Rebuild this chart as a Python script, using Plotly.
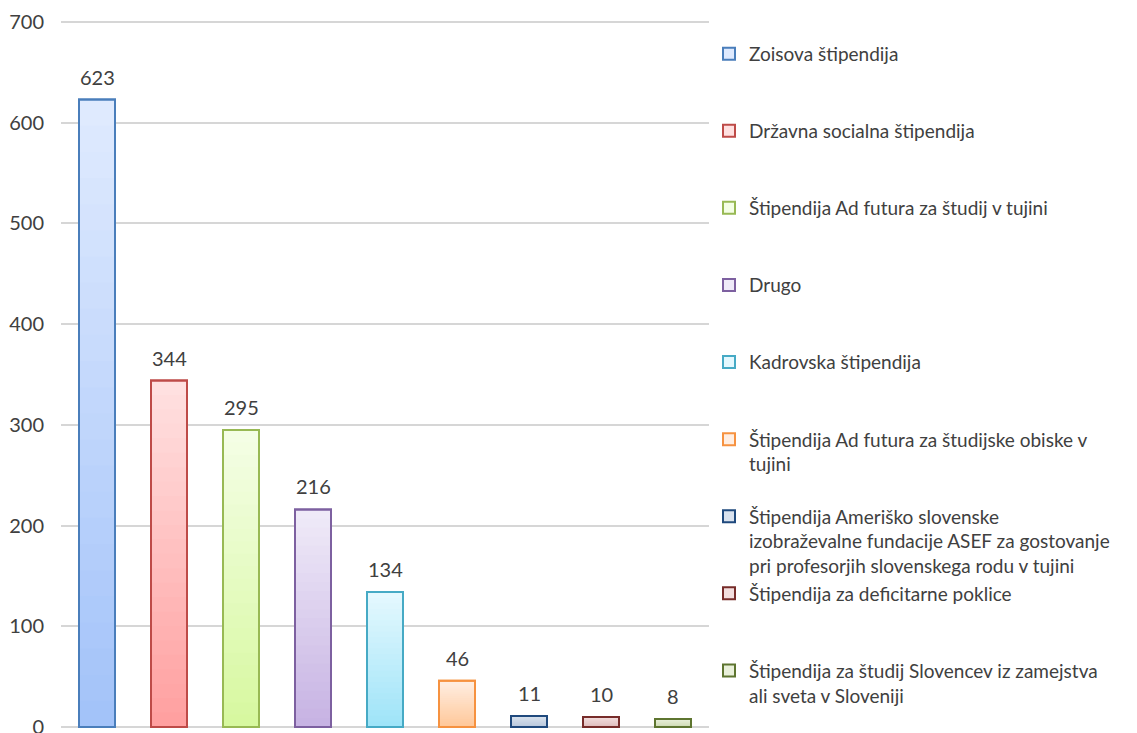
import plotly.graph_objects as go

categories = [
    "Zoisova štipendija",
    "Državna socialna štipendija",
    "Štipendija Ad futura za študij v tujini",
    "Drugo",
    "Kadrovska štipendija",
    "Štipendija Ad futura za študijske obiske v tujini",
    "Štipendija Ameriško slovenske izobraževalne fundacije ASEF za gostovanje pri profesorjih slovenskega rodu v tujini",
    "Štipendija za deficitarne poklice",
    "Štipendija za študij Slovencev iz zamejstva ali sveta v Sloveniji",
]
legend_labels = [
    "Zoisova štipendija",
    "Državna socialna štipendija",
    "Štipendija Ad futura za študij v tujini",
    "Drugo",
    "Kadrovska štipendija",
    "Štipendija Ad futura za študijske obiske v<br>tujini",
    "Štipendija Ameriško slovenske<br>izobraževalne fundacije ASEF za gostovanje<br>pri profesorjih slovenskega rodu v tujini",
    "Štipendija za deficitarne poklice",
    "Štipendija za študij Slovencev iz zamejstva<br>ali sveta v Sloveniji",
]
values = [623, 344, 295, 216, 134, 46, 11, 10, 8]
y_ticks = [0, 100, 200, 300, 400, 500, 600, 700]

line_colors = ["#4a7ebb", "#be4b48", "#98b954", "#7d60a0", "#46aac5",
               "#f69240", "#1f497d", "#772c2a", "#5e7530"]
top_colors = ["#dfeafe", "#ffe0e0", "#f4fee5", "#efeaf8", "#e4f8fe",
              "#ffeee2", "#d9e2ee", "#f3dede", "#e9f0da"]
bottom_colors = ["#a3c3f9", "#ffa0a0", "#d7f8a0", "#c7b3e3", "#9fe4f8",
                 "#ffc89a", "#b9c8dc", "#dfbcbc", "#cfdcb5"]

FONT = "Lato"
TEXT_COLOR = "#404040"
N_LAYERS = 24
BAR_W = 0.5


def mix(c1, c2, t):
    a = [int(c1[i:i + 2], 16) for i in (1, 3, 5)]
    b = [int(c2[i:i + 2], 16) for i in (1, 3, 5)]
    return "rgb(%d,%d,%d)" % tuple(round(a[j] + (b[j] - a[j]) * t) for j in range(3))


def pad_label(lbl, lines=3):
    n = lbl.count("<br>") + 1
    return lbl + "<br>\u00a0" * max(0, lines - n)


fig = go.Figure()
for i, cat in enumerate(categories):
    v = values[i]
    is_last = i == len(categories) - 1
    label = legend_labels[i] if is_last else pad_label(legend_labels[i])
    # full bar (legend entry) with the top colour of the gradient
    fig.add_bar(x=[cat], y=[v], name=label, legendgroup=cat,
                width=BAR_W, hoverinfo="skip",
                marker=dict(color=top_colors[i], line=dict(color=line_colors[i], width=2)))
    # gradient layers (shorter overlays getting darker towards the bottom)
    for k in range(1, N_LAYERS):
        frac = (N_LAYERS - k) / N_LAYERS
        fig.add_bar(x=[cat], y=[v * frac], showlegend=False, width=BAR_W, hoverinfo="skip",
                    marker=dict(color=mix(top_colors[i], bottom_colors[i], k / (N_LAYERS - 1)),
                                line=dict(width=0)))
    # outline on top
    fig.add_bar(x=[cat], y=[v], showlegend=False, width=BAR_W, hoverinfo="skip",
                marker=dict(color="rgba(0,0,0,0)", line=dict(color=line_colors[i], width=2)))

for cat, v in zip(categories, values):
    fig.add_annotation(x=cat, y=v, text=str(v), showarrow=False, yanchor="bottom", yshift=9,
                       font=dict(family=FONT, size=20, color=TEXT_COLOR))

fig.update_layout(
    width=1137, height=733,
    barmode="overlay",
    paper_bgcolor="white", plot_bgcolor="white",
    margin=dict(l=61, r=428, t=21, b=5, pad=0, autoexpand=False),
    font=dict(family=FONT, size=19, color=TEXT_COLOR),
    showlegend=True,
    legend=dict(x=1.0, xanchor="left", y=0.9805, yanchor="top",
                font=dict(family=FONT, size=19, color=TEXT_COLOR),
                tracegroupgap=0, valign="top", itemwidth=30,
                bgcolor="rgba(0,0,0,0)", traceorder="grouped"),
    xaxis=dict(categoryorder="array", categoryarray=categories,
               showticklabels=False, showgrid=False, zeroline=False, showline=False,
               range=[-0.5, len(categories) - 0.5], fixedrange=True),
    yaxis=dict(range=[-1, 701], tickvals=y_ticks, ticktext=[str(t) for t in y_ticks],
               showgrid=True, gridcolor="#d6d6d6", gridwidth=2,
               zeroline=True, zerolinecolor="#d6d6d6", zerolinewidth=2,
               showline=False, ticks="", ticklabelstandoff=16, ticklabeloverflow="allow",
               tickfont=dict(family=FONT, size=20, color=TEXT_COLOR), fixedrange=True),
)

fig.write_html("out.html", config={"displayModeBar": False},
               post_script="document.body.style.margin='0';")
